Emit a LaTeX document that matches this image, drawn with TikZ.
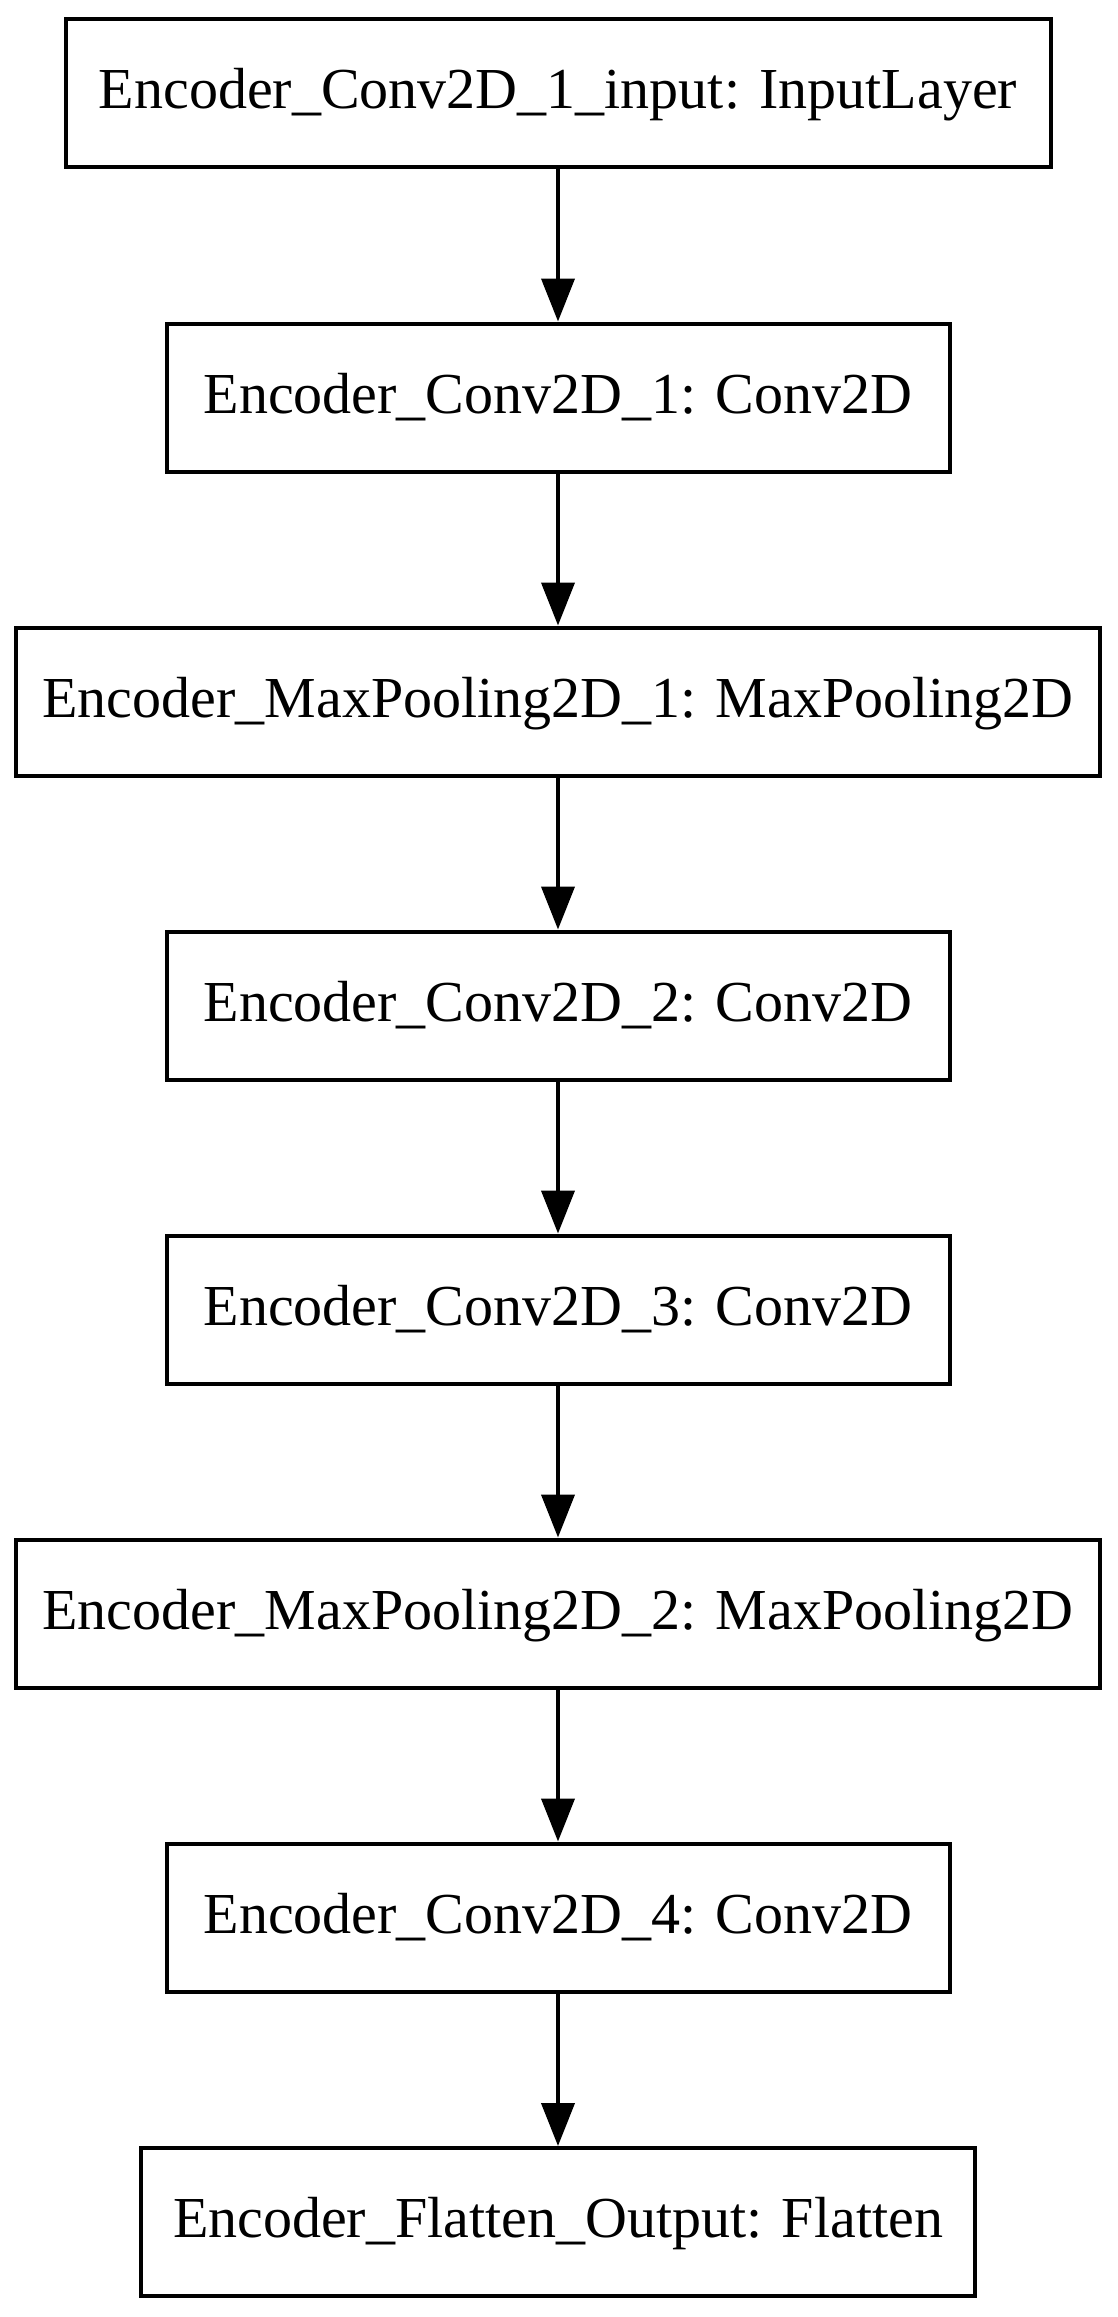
\documentclass[tikz,border=0pt]{standalone}
\usepackage{fontspec}
\setmainfont{Liberation Serif}
\usetikzlibrary{arrows.meta}
\begin{document}
\begin{tikzpicture}[x=1pt,y=-1pt,
  layer/.style={draw=black, line width=4pt, rectangle, minimum height=148pt, inner sep=0pt,
    font=\fontsize{58}{70}\selectfont, text height=45pt, text depth=14pt},
  flow/.style={line width=4pt, -{Triangle[length=43pt,width=33pt]}}]
\useasboundingbox[fill=white] (0,0) rectangle (1117,2317);
\node[layer, minimum width=985pt]  (n1) at (558,93.5)   {Encoder\_Conv2D\_1\_input: InputLayer};
\node[layer, minimum width=783pt]  (n2) at (558,397.5)  {Encoder\_Conv2D\_1: Conv2D};
\node[layer, minimum width=1084pt] (n3) at (558,701.5)  {Encoder\_MaxPooling2D\_1: MaxPooling2D};
\node[layer, minimum width=783pt]  (n4) at (558,1005.5) {Encoder\_Conv2D\_2: Conv2D};
\node[layer, minimum width=783pt]  (n5) at (558,1309.5) {Encoder\_Conv2D\_3: Conv2D};
\node[layer, minimum width=1084pt] (n6) at (558,1613.5) {Encoder\_MaxPooling2D\_2: MaxPooling2D};
\node[layer, minimum width=783pt]  (n7) at (558,1917.5) {Encoder\_Conv2D\_4: Conv2D};
\node[layer, minimum width=834pt]  (n8) at (558,2222)   {Encoder\_Flatten\_Output: Flatten};
\draw[flow] (n1) -- (n2);
\draw[flow] (n2) -- (n3);
\draw[flow] (n3) -- (n4);
\draw[flow] (n4) -- (n5);
\draw[flow] (n5) -- (n6);
\draw[flow] (n6) -- (n7);
\draw[flow] (n7) -- (n8);
\end{tikzpicture}
\end{document}
